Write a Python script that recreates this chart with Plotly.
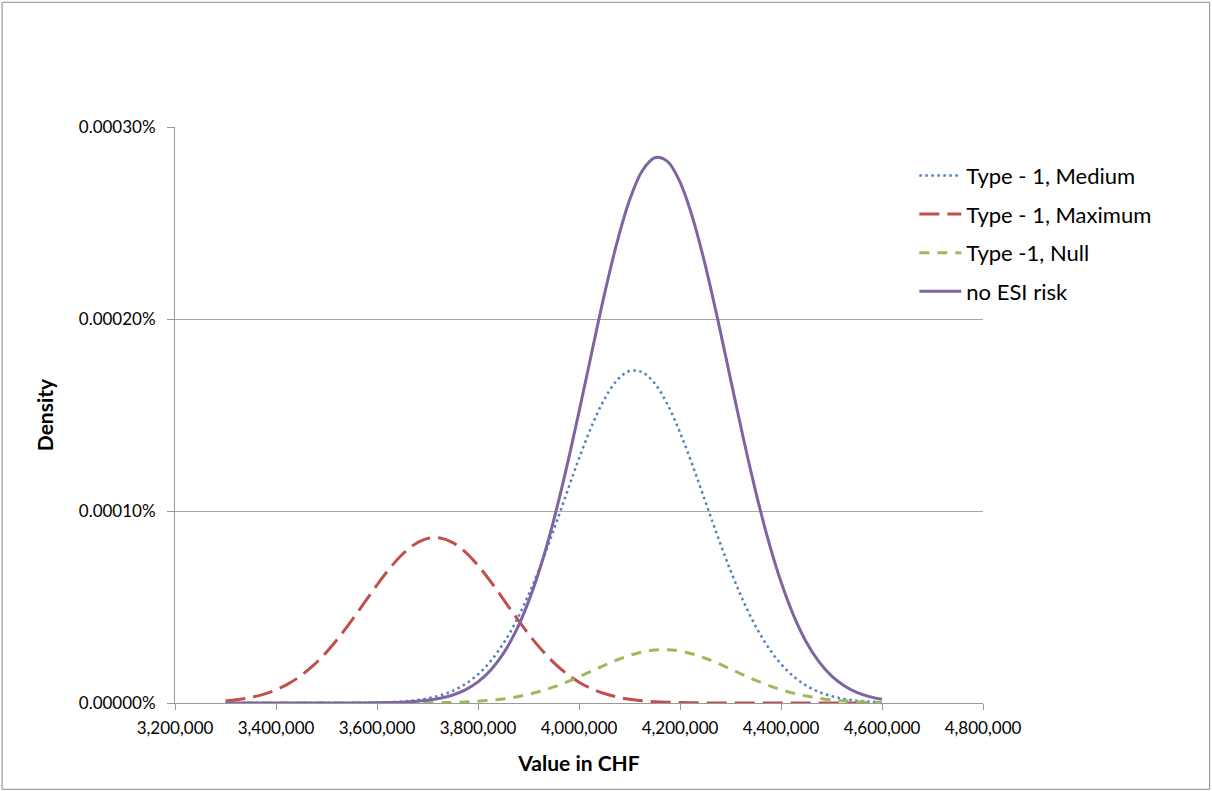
import plotly.graph_objects as go

# Value in CHF (x) and densities (in units of 1e-6)
x_vals = [3300000, 3325000, 3350000, 3375000, 3400000, 3425000, 3450000, 3475000,
          3500000, 3525000, 3550000, 3575000, 3600000, 3625000, 3650000, 3675000,
          3700000, 3725000, 3750000, 3775000, 3800000, 3825000, 3850000, 3875000,
          3900000, 3925000, 3950000, 3975000, 4000000, 4025000, 4050000, 4075000,
          4100000, 4125000, 4150000, 4175000, 4200000, 4225000, 4250000, 4275000,
          4300000, 4325000, 4350000, 4375000, 4400000, 4425000, 4450000, 4475000,
          4500000, 4525000, 4550000, 4575000, 4600000]

medium = [0.0, 0.0, 0.0, 0.0000018, 0.0000045, 0.000011, 0.000026, 0.000059,
          0.000131, 0.00028, 0.000581, 0.00117, 0.00228, 0.00429, 0.00783, 0.0139,
          0.0238, 0.0395, 0.0636, 0.0990, 0.149, 0.218, 0.309, 0.424,
          0.563, 0.724, 0.902, 1.089, 1.273, 1.441, 1.581, 1.680,
          1.729, 1.723, 1.664, 1.556, 1.409, 1.237, 1.051, 0.865,
          0.690, 0.533, 0.399, 0.289, 0.203, 0.138, 0.0908, 0.0579,
          0.0358, 0.0214, 0.0124, 0.00697, 0.0038]

maximum = [0.01064, 0.0178, 0.0288, 0.0451, 0.0686, 0.1008, 0.1437, 0.1982,
           0.2650, 0.3431, 0.4301, 0.5225, 0.6148, 0.7007, 0.7735, 0.8270,
           0.8566, 0.8593, 0.8350, 0.7860, 0.7165, 0.6327, 0.5412, 0.4484,
           0.3599, 0.2797, 0.2105, 0.1536, 0.1085, 0.0742, 0.0492, 0.0316,
           0.0196, 0.0118, 0.0069, 0.0039, 0.00213, 0.00113, 0.00058, 0.00029,
           0.00014, 0.000065, 0.00003, 0.0, 0.0, 0.0, 0.0, 0.0,
           0.0, 0.0, 0.0, 0.0, 0.0]

null = [0.0, 0.0, 0.0, 0.0, 0.0, 0.0, 0.0, 0.0,
        0.000004, 0.00001, 0.000017, 0.00004, 0.00008, 0.000155, 0.0003, 0.00058,
        0.00107, 0.0019, 0.00329, 0.00552, 0.00896, 0.0141, 0.0214, 0.0316,
        0.0451, 0.0624, 0.0836, 0.1086, 0.1365, 0.1662, 0.1961, 0.2240,
        0.2479, 0.2658, 0.2760, 0.2775, 0.2704, 0.2552, 0.2332, 0.2064,
        0.1771, 0.1471, 0.1183, 0.0922, 0.0696, 0.0509, 0.0360, 0.0247,
        0.0164, 0.0106, 0.0066, 0.0040, 0.0023]

no_risk = [0.0, 0.0, 0.0, 0.0000005, 0.0000013, 0.0000033, 0.0000083, 0.00002,
           0.000047, 0.000107, 0.000235, 0.0005, 0.00104, 0.00208, 0.00404, 0.00759,
           0.0138, 0.0243, 0.0416, 0.0687, 0.110, 0.171, 0.257, 0.374,
           0.528, 0.720, 0.953, 1.222, 1.516, 1.823, 2.124, 2.396,
           2.618, 2.771, 2.840, 2.821, 2.713, 2.527, 2.281, 1.994,
           1.688, 1.384, 1.100, 0.846, 0.631, 0.455, 0.318, 0.2155,
           0.1414, 0.0899, 0.0553, 0.0330, 0.0191]

scale = 1e-6
x_ticks = [3200000, 3400000, 3600000, 3800000, 4000000, 4200000, 4400000, 4600000, 4800000]
y_ticks = [0.0, 1e-6, 2e-6, 3e-6]

series = [
    ("Type - 1, Medium", medium, dict(color="#4F81BD", width=2.5, dash="2.5px,3.5px")),
    ("Type - 1, Maximum", maximum, dict(color="#C0504D", width=3, dash="20px,8px")),
    ("Type -1, Null", null, dict(color="#9BBB59", width=3, dash="10px,8px")),
    ("no ESI risk", no_risk, dict(color="#8064A2", width=3)),
]

fig = go.Figure()
for i, (name, vals, line) in enumerate(series):
    fig.add_trace(go.Scatter(
        x=x_vals, y=[v * scale for v in vals], mode="lines", name=name,
        line=dict(shape="spline", smoothing=1.0, **line),
        legendgroup=f"g{i}",
    ))

font_family = "Lato, 'Open Sans', sans-serif"
fig.update_layout(
    width=1212, height=791,
    margin=dict(l=175, r=229, t=127, b=88),
    paper_bgcolor="white", plot_bgcolor="white",
    font=dict(family=font_family, color="#000000", size=17),
    showlegend=True,
    legend=dict(x=0.915, xanchor="left", y=0.952, yanchor="top",
                font=dict(size=22, family=font_family), itemwidth=42,
                tracegroupgap=7, bgcolor="rgba(0,0,0,0)"),
    xaxis=dict(range=[3200000, 4800000], tickvals=x_ticks, tickformat=",d",
               showgrid=False, zeroline=False, showline=True, linecolor="#999999",
               linewidth=1, ticks="outside", ticklen=6, tickcolor="#999999",
               tickfont=dict(size=17), ticklabelstandoff=4,
               title=dict(text="<b>Value in CHF</b>", font=dict(size=21), standoff=18)),
    yaxis=dict(range=[0, 3e-6], tickvals=y_ticks, tickformat=".5%",
               showgrid=True, gridcolor="#a6a6a6", gridwidth=1, zeroline=False,
               showline=True, linecolor="#999999", linewidth=1,
               ticks="outside", ticklen=7, tickcolor="#999999",
               tickfont=dict(size=17), ticklabelstandoff=8,
               title=dict(text="<b>Density</b>", font=dict(size=21), standoff=19)),
    shapes=[dict(type="rect", xref="paper", yref="paper",
                 x0=-0.2140, x1=1.2805, y0=-0.1498, y1=1.2165,
                 line=dict(color="#868686", width=1), fillcolor="rgba(0,0,0,0)",
                 layer="below")],
)

fig.write_html("out.html")
